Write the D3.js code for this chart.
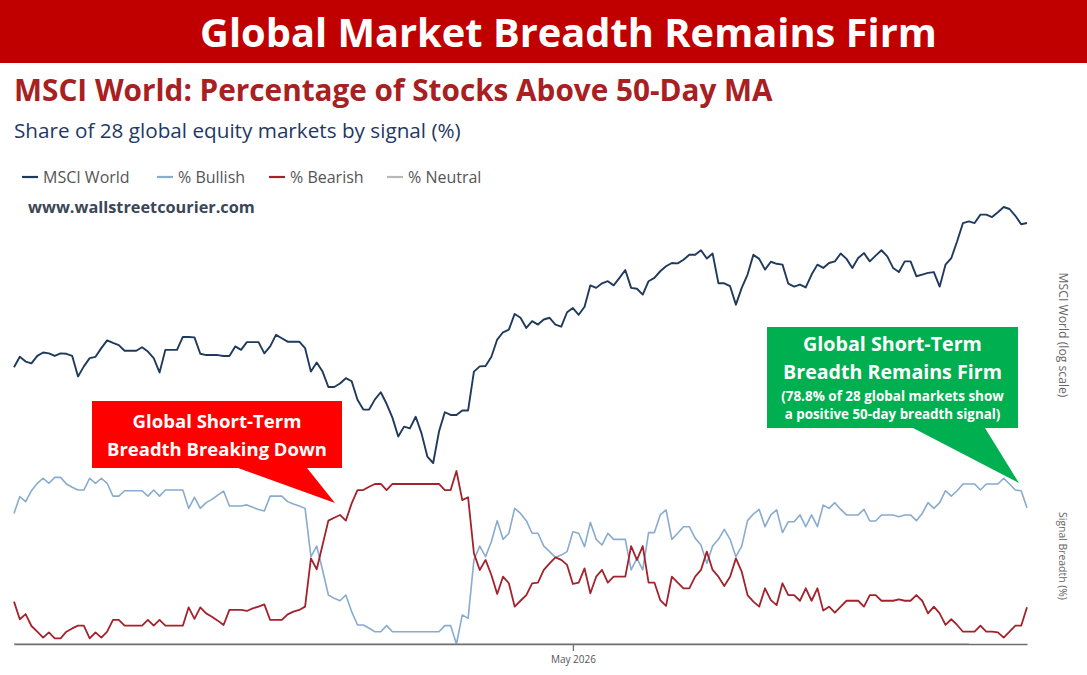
<!DOCTYPE html>
<html>
<head>
<meta charset="utf-8">
<script src="https://cdn.jsdelivr.net/npm/d3@7"></script>
<style>
  body{margin:0;background:#fff}
  svg{display:block}
  text{font-family:"Open Sans","Noto Sans",sans-serif}
</style>
</head>
<body>
<svg id="chart" width="1087" height="675"></svg>
<script>
// ---- data (daily) ----
var dates = d3.utcDay.range(Date.UTC(2026,0,25), Date.UTC(2026,6,19)) // 175 days

var msci = [
  4214,4238,4227,4223,4240,4248,4246,4240,4246,4245,
  4240,4193,4216,4235,4238,4258,4276,4270,4265,4252,
  4252,4252,4260,4250,4235,4202,4254,4254,4254,4284,
  4284,4283,4245,4242,4242,4242,4240,4240,4262,4254,
  4272,4272,4272,4246,4262,4289,4281,4273,4273,4273,
  4258,4204,4225,4204,4169,4169,4177,4189,4182,4140,
  4118,4118,4141,4157,4131,4100,4058,4080,4076,4102,
  4065,4014,4000,4069,4112,4106,4106,4116,4116,4204,
  4216,4217,4238,4278,4295,4301,4338,4329,4305,4321,
  4313,4325,4329,4313,4308,4342,4352,4336,4355,4406,
  4400,4411,4416,4406,4424,4443,4400,4398,4384,4416,
  4424,4440,4452,4460,4459,4468,4480,4480,4491,4471,
  4483,4411,4411,4404,4360,4400,4432,4480,4470,4444,
  4463,4458,4456,4410,4403,4408,4401,4432,4456,4448,
  4460,4464,4483,4470,4448,4472,4484,4464,4478,4491,
  4476,4448,4438,4464,4464,4428,4432,4436,4438,4403,
  4456,4472,4513,4558,4562,4558,4579,4579,4573,4585,
  4598,4593,4576,4555,4558
]

var bullish = [
  75.5,85.2,82.3,88.6,92.9,95.8,92.9,96.3,96.3,92.5,
  90.6,89.0,89.0,95.8,92.9,95.8,92.9,85.5,85.5,88.6,
  88.6,88.6,88.6,85.5,89.0,85.5,89.0,89.0,89.0,89.0,
  78.4,84.8,78.4,81.7,83.6,86.1,88.4,79.8,79.8,79.8,
  80.4,79.0,77.8,76.9,85.5,85.5,85.5,82.3,80.9,79.8,
  78.4,50.5,56.6,42.8,28.3,26.4,25.0,28.3,18.7,11.0,
  11.0,9.1,7.1,7.1,10.6,7.1,7.1,7.1,7.1,7.1,
  7.1,7.1,7.1,7.1,10.6,10.6,0,16.8,14.8,48.6,
  56.6,50.5,59.2,71.3,60.5,64.0,78.4,75.5,71.3,64.0,
  64.0,56.6,53.4,50.1,51.4,53.4,64.9,64.0,56.3,70.3,
  60.5,57.2,64.0,60.5,60.5,60.5,42.8,49.5,42.8,64.4,
  64.4,74.6,77.5,60.5,64.0,67.8,67.8,61.2,57.2,46.6,
  56.6,60.5,66.3,60.5,50.5,56.6,71.3,75.1,77.8,67.8,
  74.6,77.5,64.4,70.7,70.7,74.6,67.8,74.6,67.8,80.3,
  78.4,81.7,77.8,74.6,74.6,74.6,77.8,71.1,71.1,74.6,
  74.6,74.6,73.6,74.6,74.6,71.3,75.5,81.7,78.4,81.7,
  88.6,85.5,88.6,92.5,92.5,92.5,89.0,92.5,92.5,92.5,
  95.8,92.5,89.0,88.6,78.8
]

var bearish = [
  24.5,14.3,17.3,10.4,7.1,3.7,6.7,3.3,3.3,7.1,
  9.0,10.6,10.6,3.3,6.7,3.7,7.1,13.9,13.9,10.6,
  10.6,10.6,10.6,13.9,10.6,13.9,10.6,10.6,10.6,10.6,
  21.2,14.5,21.2,17.7,15.8,13.5,11.0,19.7,19.7,19.7,
  19.1,20.6,21.6,22.9,13.9,13.9,13.9,17.1,18.7,19.7,
  21.6,49.5,43.2,57.2,71.3,73.0,74.6,71.3,81.3,89.0,
  89.0,90.9,92.5,92.5,89.0,92.5,92.5,92.5,92.5,92.5,
  92.5,92.5,92.5,92.5,89.0,89.0,100,83.2,84.8,52.4,
  42.8,48.6,39.9,28.9,38.9,35.1,21.6,25.0,28.3,35.1,
  35.5,42.8,46.6,50.1,48.6,45.7,34.7,35.5,43.7,29.3,
  38.9,42.8,35.5,38.9,38.9,38.9,56.6,48.6,56.6,35.5,
  35.5,25.4,22.0,38.9,35.5,32.2,32.2,38.9,42.8,53.4,
  42.8,38.9,33.5,38.9,49.5,41.8,28.3,24.5,21.6,32.2,
  25.4,22.5,35.1,28.3,28.3,25.0,32.2,25.0,32.2,19.3,
  21.6,18.1,21.6,25.0,25.0,25.0,21.6,28.3,28.3,25.0,
  25.0,25.0,25.8,25.0,25.0,28.3,25.0,17.7,21.6,17.7,
  11.0,14.3,11.0,7.1,7.1,7.1,10.6,7.1,7.1,6.7,
  3.7,7.1,10.6,10.6,21.2
]

var neutral = [
  0,0,0,0,0,0,0,0,0,0, 0,0,0,0,0,0,0,0,0,0, 0,0,0,0,0,0,0,0,0,0,
  0,0,0,0,0,0,0,0,0,0, 0,0,0,0,0,0,0,0,0,0, 0,0,0,0,0,0,0,0,0,0,
  0,0,0,0,0,0,0,0,0,0, 0,0,0,0,0,0,0,0,0,0, 0,0,0,0,0,0,0,0,0,0,
  0,0,0,0,0,0,0,0,0,0, 0,0,0,0,0,0,0,0,0,0, 0,0,0,0,0,0,0,0,0,0,
  0,0,0,0,0,0,0,0,0,0, 0,0,0,0,0,0,0,0,0,0, 0,0,0,0,0,0,0,0,0,0,
  0,0,0,0,0,0,0,0,0,0, 0,0,0,0,0
]

var seriesNames = ["MSCI World", "% Bullish", "% Bearish", "% Neutral"]
var tickDates = [new Date(Date.UTC(2026,4,1))]

var title = "Global Market Breadth Remains Firm"
var subtitle = "MSCI World: Percentage of Stocks Above 50-Day MA"
var note = "Share of 28 global equity markets by signal (%)"
var source = "www.wallstreetcourier.com"
var redNote = ["Global Short-Term", "Breadth Breaking Down"]
var greenNote = ["Global Short-Term", "Breadth Remains Firm", "(78.8% of 28 global markets show", "a positive 50-day breadth signal)"]

// ---- setup ----
var svg = d3.select("#chart")
var colors = {"MSCI World":"#1f3a5c", "% Bullish":"#88abcf", "% Bearish":"#a3222c", "% Neutral":"#b8b8b8"}

// squeeze/stretch a text to a width by font size
function fitWidth(sel, w){
  sel.each(function(){
    var len = this.getComputedTextLength()
    var fs = parseFloat(d3.select(this).attr("font-size"))
    d3.select(this).attr("font-size", fs*w/len)
  })
}

var x = d3.scaleUtc().domain(d3.extent(dates)).range([14, 1027])
var yPrice = d3.scaleLog().domain(d3.extent(msci)).range([463, 207])
var yPct = d3.scaleLinear().domain([0, 100]).range([644, 471])

// banner
svg.append("rect").attr("x",0).attr("y",0).attr("width",1087).attr("height",63).attr("fill","#c00000")
svg.append("text").attr("x",568.5).attr("y",47).attr("text-anchor","middle")
  .attr("font-size",36).attr("font-weight",700).attr("fill","#fff").text(title).call(fitWidth,737)

svg.append("text").attr("x",14).attr("y",101)
  .attr("font-size",27).attr("font-weight",700).attr("fill","#a8201f").text(subtitle).call(fitWidth,759)
svg.append("text").attr("x",14).attr("y",138)
  .attr("font-size",19).attr("fill","#1f3864").text(note).call(fitWidth,447)

// legend
var legendX = [43, 178, 290, 408]
var lg = svg.append("g").selectAll("g").data(seriesNames).enter().append("g")
lg.append("line")
  .attr("x1",function(d,i){return legendX[i]-21}).attr("x2",function(d,i){return legendX[i]-5})
  .attr("y1",177).attr("y2",177)
  .attr("stroke",function(d){return colors[d]}).attr("stroke-width",2.2)
lg.append("text").attr("x",function(d,i){return legendX[i]}).attr("y",183)
  .attr("font-size",16).attr("fill","#555").text(function(d){return d})

svg.append("text").attr("x",28).attr("y",213)
  .attr("font-size",16).attr("font-weight",700).attr("fill","#3b4656").text(source).call(fitWidth,227)

// right side axis titles
svg.append("text").attr("transform","translate(1059,335)rotate(90)").attr("text-anchor","middle")
  .attr("font-size",12).attr("fill","#666").text("MSCI World (log scale)").call(fitWidth,125)
svg.append("text").attr("transform","translate(1059,556)rotate(90)").attr("text-anchor","middle")
  .attr("font-size",11).attr("fill","#666").text("Signal Breadth (%)").call(fitWidth,88)

// lines
function pctLine(vals){
  return d3.line().x(function(d,i){return x(dates[i])}).y(function(d){return yPct(d)})(vals)
}
svg.append("path").attr("d",pctLine(neutral)).attr("fill","none")
  .attr("stroke",colors["% Neutral"]).attr("stroke-width",1.5)
svg.append("path").attr("d",pctLine(bullish)).attr("fill","none")
  .attr("stroke",colors["% Bullish"]).attr("stroke-width",1.6).attr("stroke-linejoin","round")
svg.append("path").attr("d",pctLine(bearish)).attr("fill","none")
  .attr("stroke",colors["% Bearish"]).attr("stroke-width",1.8).attr("stroke-linejoin","round")

var priceLine = d3.line().x(function(d,i){return x(dates[i])}).y(function(d){return yPrice(d)})
svg.append("path").attr("d",priceLine(msci)).attr("fill","none")
  .attr("stroke",colors["MSCI World"]).attr("stroke-width",1.9).attr("stroke-linejoin","round")

// x axis, one tick only, no end ticks
var xAxis = d3.axisBottom(x).tickValues(tickDates).tickFormat(d3.utcFormat("%b %Y"))
  .tickSizeInner(7).tickSizeOuter(0).tickPadding(5)
var ax = svg.append("g").attr("transform","translate(0,644)").call(xAxis)
ax.select(".domain").attr("stroke","#707070").attr("stroke-width",1.5)
ax.selectAll(".tick line").attr("stroke","#707070").attr("stroke-width",1.3)
ax.selectAll(".tick text").attr("fill","#555").attr("font-size",10).attr("font-family","'Open Sans',sans-serif")

// callouts
function callout(box, tip, base, fill){
  var p = d3.path()
  p.moveTo(box[0], box[1]); p.lineTo(box[2], box[1]); p.lineTo(box[2], box[3])
  p.lineTo(base[1], box[3]); p.lineTo(tip[0], tip[1]); p.lineTo(base[0], box[3])
  p.lineTo(box[0], box[3]); p.closePath()
  svg.append("path").attr("d", p.toString()).attr("fill", fill)
}
callout([92,401,342,468], [335,503], [238,307], "#ff0000")
callout([767,327,1018,428], [1019,483], [913,985], "#00b050")

var redY = [428, 456], redW = [169, 220]
redNote.forEach(function(t,i){
  svg.append("text").attr("x",217).attr("y",redY[i]).attr("text-anchor","middle")
    .attr("font-size",19).attr("font-weight",700).attr("fill","#fff").text(t).call(fitWidth,redW[i])
})
var greenY = [351, 379, 401, 419], greenW = [179, 219, 223, 216], greenFs = [20, 20, 14, 14]
greenNote.forEach(function(t,i){
  svg.append("text").attr("x",892.5).attr("y",greenY[i]).attr("text-anchor","middle")
    .attr("font-size",greenFs[i]).attr("font-weight",700).attr("fill","#fff").text(t).call(fitWidth,greenW[i])
})
</script>
</body>
</html>
